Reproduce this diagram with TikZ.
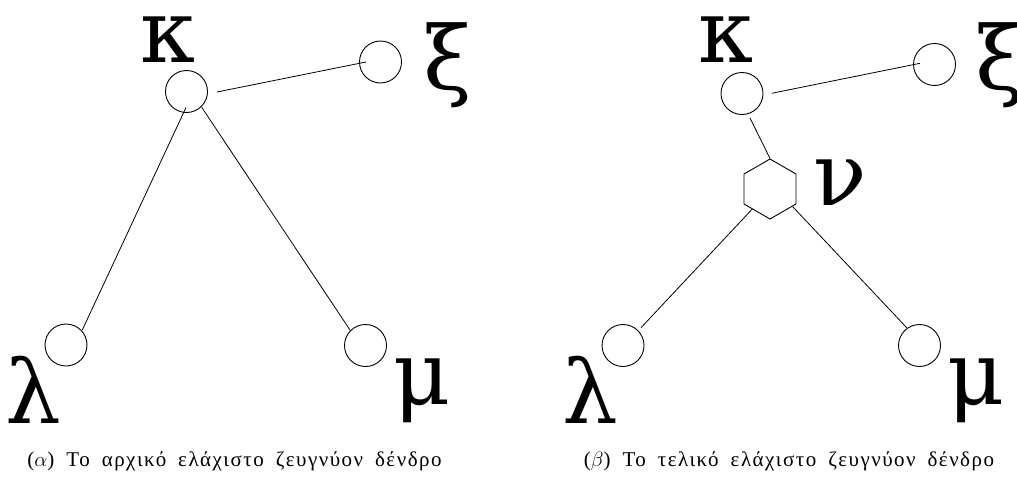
\documentclass[tikz,border=0pt]{standalone}
\usepackage{fontspec}
\setmainfont{Liberation Serif}
\newfontfamily\lblfont{DejaVu Serif}
\newfontfamily\capgreek[LetterSpace=7]{Liberation Serif}
\newcommand\mycapfont{\capgreek\fontsize{21}{23}\selectfont\spaceskip 12pt\relax}
\usetikzlibrary{calc,shapes.geometric}
\begin{document}
\begin{tikzpicture}[x=1pt,y=-1pt,
  vert/.style={circle,draw,line width=0.9pt,minimum size=42pt,inner sep=0pt},
  hexa/.style={regular polygon,regular polygon sides=6,rotate=30,draw,line width=0.9pt,minimum size=60pt,inner sep=0pt},
  lbl/.style={anchor=base,inner sep=0pt,font=\lblfont\fontsize{88}{88}\selectfont},
  captext/.style={anchor=base,inner sep=0pt,font=\mycapfont},
  edge/.style={line width=0.8pt}]
\useasboundingbox (0,0) rectangle (1017,487);
% left tree
\node[vert] (k1) at (186.5,91.5) {};
\node[vert] (x1) at (380.5,62) {};
\node[vert] (l1) at (66,345) {};
\node[vert] (m1) at (365.5,345.5) {};
\draw[edge] ($(k1)+(30.5,0.5)$) -- ($(x1)+(-14.5,0)$);
\draw[edge] ($(k1)+(-0.5,16)$) -- ($(l1)+(16.3,-15)$);
\draw[edge] ($(k1)+(15.2,15.8)$) -- ($(m1)+(-15.5,-15.5)$);
\node[lbl] (tk1) at (168,63) {κ};
\node[lbl] (tx1) at (447.5,89) {ξ};
\node[lbl] (tl1) at (33,423) {λ};
\node[lbl] (tm1) at (422,404) {μ};
\node[captext] (c1) at (234.5,466.7) {(\(\alpha\)) Το αρχικό ελάχιστο ζευγνύον δένδρο};
% right tree
\node[vert] (k2) at (742,93.5) {};
\node[vert] (x2) at (934.5,64.5) {};
\node[hexa] (h2) at (770,189) {};
\node[vert] (l2) at (623,345.5) {};
\node[vert] (m2) at (919.5,345.5) {};
\draw[edge] ($(k2)+(29.7,-0.2)$) -- ($(x2)+(-14.5,-1.2)$);
\draw[edge] ($(k2)+(8,24.5)$) -- (h2.corner 1);
\draw[edge] ($(h2)+(-17.7,20)$) -- ($(l2)+(18,-17.8)$);
\draw[edge] ($(h2)+(22.7,17.7)$) -- ($(m2)+(-12.8,-17.8)$);
\node[lbl] (tk2) at (726,63) {κ};
\node[lbl] (tx2) at (999.5,89) {ξ};
\node[lbl] (tn2) at (840,205) {ν};
\node[lbl] (tl2) at (590,423) {λ};
\node[lbl] (tm2) at (976,404) {μ};
\node[captext] (c2) at (789,466.7) {(\(\beta\)) Το τελικό ελάχιστο ζευγνύον δένδρο};
\end{tikzpicture}
\end{document}
